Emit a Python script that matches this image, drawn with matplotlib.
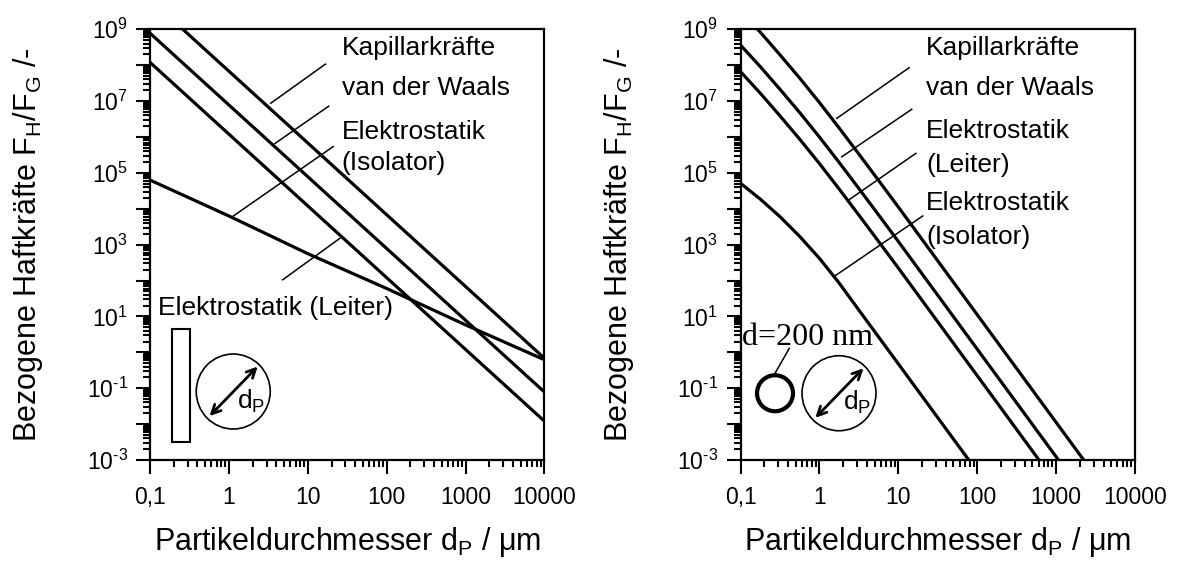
import numpy as np
import matplotlib.pyplot as plt
from matplotlib.patches import Ellipse, Rectangle
from matplotlib.ticker import LogLocator, NullFormatter

plt.rcParams['font.family'] = ['Liberation Sans', 'DejaVu Sans']
plt.rcParams['mathtext.fontset'] = 'custom'
plt.rcParams['mathtext.rm'] = 'Liberation Sans'
plt.rcParams['mathtext.it'] = 'Liberation Sans:italic'
plt.rcParams['mathtext.bf'] = 'Liberation Sans:bold'

# linkes Diagramm: glatte Oberflaeche
dp_links = [0.1, 1, 10, 100, 1000, 10000]
kap_links = [6.8e9, 6.8e7, 6.8e5, 6.8e3, 68, 0.68]
vdw_links = [7.8e8, 7.8e6, 7.8e4, 780, 7.8, 0.078]
iso_links = [1.2e8, 1.2e6, 1.2e4, 120, 1.2, 0.012]
leiter_links = [6.3e4, 6.3e3, 5.6e2, 60, 5.8, 0.62]

# rechtes Diagramm: Rauigkeit d = 200 nm
dp_rechts = [0.1, 0.178, 0.316, 0.562, 1, 1.78, 3.16, 5.62, 10, 100, 1000, 10000]
kap_rechts = [3.31e9, 8.32e8, 1.95e8, 4.37e7, 9.12e6, 1.78e6, 3.35e5, 6.17e4,
              1.12e4, 11.2, 1.12e-2, 1.12e-5]
vdw_rechts = [3.63e8, 9.12e7, 2.14e7, 4.79e6, 1.0e6, 1.95e5, 3.67e4, 6.76e3,
              1.23e3, 1.23, 1.23e-3, 1.23e-6]
leiter_rechts = [6.61e7, 1.66e7, 3.89e6, 8.71e5, 1.82e5, 3.55e4, 6.68e3, 1.23e3,
                 224, 0.224, 2.24e-4, 2.24e-7]
iso_rechts = [5.13e4, 1.86e4, 6.03e3, 1.70e3, 417, 85.1, 15.1, 2.69,
              0.479, 4.79e-4, 4.79e-7, 4.79e-10]

x_ticks = [0.1, 1, 10, 100, 1000, 10000]
x_labels = ['0,1', '1', '10', '100', '1000', '10000']
y_exponents = list(range(-3, 10))

KURVE = dict(color='k', lw=2.3, solid_capstyle='butt', solid_joinstyle='round')
HINWEIS = dict(color='k', lw=1.1)
TXT = dict(fontsize=19, va='center', ha='left')


def ylabel_text(e):
    if e % 2 == 0:
        return ''
    if e < 0:
        return '$10^{\\text{-%d}}$' % (-e)
    return '$10^{%d}$' % e


def achsen(ax):
    ax.set_xscale('log')
    ax.set_yscale('log')
    ax.set_xlim(0.1, 10000)
    ax.set_ylim(1e-3, 1e9)
    ax.set_xticks(x_ticks)
    ax.set_xticklabels(x_labels)
    ax.xaxis.set_minor_locator(LogLocator(base=10, subs=np.arange(2, 10), numticks=20))
    ax.xaxis.set_minor_formatter(NullFormatter())
    ax.set_yticks([10.0 ** e for e in y_exponents])
    ax.set_yticklabels([ylabel_text(e) for e in y_exponents])
    ax.yaxis.set_minor_locator(LogLocator(base=10, subs=np.arange(2, 10), numticks=20))
    ax.yaxis.set_minor_formatter(NullFormatter())
    ax.tick_params(which='both', direction='out', top=False, right=False, width=1.5, color='k')
    ax.tick_params(which='major', length=10, labelsize=16.5)
    ax.tick_params(axis='x', which='major', pad=9)
    ax.tick_params(axis='y', which='major', pad=6)
    ax.tick_params(which='minor', length=5)
    for s in ax.spines.values():
        s.set_linewidth(1.6)
    ax.set_xlabel('Partikeldurchmesser d$_\\mathrm{P}$ / \u03bcm', fontsize=22)
    ax.set_ylabel('Bezogene Haftkr\u00e4fte F$_\\mathrm{H}$/F$_\\mathrm{G}$ /-', fontsize=22)
    ax.xaxis.set_label_coords(0.5, -0.15)
    ax.yaxis.set_label_coords(-0.265, 0.5)


def partikel(ax, cx, cy):
    # Partikel mit Durchmesserpfeil, Groesse in Pixeln -> Achsenanteil
    w, h = ax.bbox.width, ax.bbox.height
    ax.add_patch(Ellipse((cx, cy), 74 / w, 75 / h, transform=ax.transAxes,
                         fill=False, lw=1.2, ec='k'))
    ax.annotate('', xy=(cx + 0.062, cy + 0.058), xytext=(cx - 0.060, cy - 0.057),
                xycoords='axes fraction', textcoords='axes fraction',
                arrowprops=dict(arrowstyle='<->', lw=2.0, color='k', mutation_scale=16,
                                shrinkA=0, shrinkB=0))
    ax.text(cx + 0.01, cy - 0.022, 'd$_\\mathrm{P}$', transform=ax.transAxes,
            fontsize=19, va='center', ha='left')


fig = plt.figure(figsize=(11.78, 5.63), dpi=100)
ax1 = fig.add_axes([0.12733, 0.18295, 0.33489, 0.76501])
ax2 = fig.add_axes([0.62861, 0.18295, 0.33489, 0.76501])

# links
achsen(ax1)
ax1.plot(dp_links, kap_links, **KURVE)
ax1.plot(dp_links, vdw_links, **KURVE)
ax1.plot(dp_links, iso_links, **KURVE)
ax1.plot(dp_links, leiter_links, **KURVE)
ax1.plot([3.39, 16.7], [8.7e6, 1.07e8], **HINWEIS)
ax1.plot([3.84, 18.4], [6.6e5, 7.2e6], **HINWEIS)
ax1.plot([1.14, 21.0], [6.3e3, 5.4e5], **HINWEIS)
ax1.plot([4.81, 25.6], [105, 1.51e3], **HINWEIS)
ax1.text(0.486, 0.956, 'Kapillarkr\u00e4fte', transform=ax1.transAxes, **TXT)
ax1.text(0.486, 0.863, 'van der Waals', transform=ax1.transAxes, **TXT)
ax1.text(0.486, 0.762, 'Elektrostatik', transform=ax1.transAxes, **TXT)
ax1.text(0.486, 0.689, '(Isolator)', transform=ax1.transAxes, **TXT)
ax1.text(0.021, 0.352, 'Elektrostatik (Leiter)', transform=ax1.transAxes, **TXT)
ax1.add_patch(Rectangle((0.055, 0.0425), 0.0464, 0.2605, transform=ax1.transAxes,
                        fill=False, lw=1.5, ec='k'))
partikel(ax1, 0.211, 0.159)

# rechts
achsen(ax2)
ax2.plot(dp_rechts, kap_rechts, **KURVE)
ax2.plot(dp_rechts, vdw_rechts, **KURVE)
ax2.plot(dp_rechts, leiter_rechts, **KURVE)
ax2.plot(dp_rechts, iso_rechts, **KURVE)
ax2.plot([1.66, 13.7], [3.3e6, 8.5e7], **HINWEIS)
ax2.plot([1.92, 14.8], [2.8e5, 5.9e6], **HINWEIS)
ax2.plot([2.39, 16.7], [1.8e4, 3.5e5], **HINWEIS)
ax2.plot([1.53, 20.4], [129, 6.3e3], **HINWEIS)
ax2.text(0.470, 0.956, 'Kapillarkr\u00e4fte', transform=ax2.transAxes, **TXT)
ax2.text(0.470, 0.863, 'van der Waals', transform=ax2.transAxes, **TXT)
ax2.text(0.470, 0.765, 'Elektrostatik', transform=ax2.transAxes, **TXT)
ax2.text(0.470, 0.685, '(Leiter)', transform=ax2.transAxes, **TXT)
ax2.text(0.470, 0.596, 'Elektrostatik', transform=ax2.transAxes, **TXT)
ax2.text(0.470, 0.518, '(Isolator)', transform=ax2.transAxes, **TXT)
w2, h2 = ax2.bbox.width, ax2.bbox.height
ax2.add_patch(Ellipse((0.0875, 0.155), 36 / w2, 36 / h2, transform=ax2.transAxes,
                      fill=False, lw=3.0, ec='k'))
ax2.plot([0.1237, 0.0875], [0.2593, 0.2013], transform=ax2.transAxes, **HINWEIS)
ax2.text(0.004, 0.284, 'd=200 nm', transform=ax2.transAxes, fontsize=23,
         family=['Liberation Serif', 'DejaVu Serif'], va='center', ha='left')
partikel(ax2, 0.2497, 0.155)

fig.savefig('out.png', dpi=100, facecolor='white')
